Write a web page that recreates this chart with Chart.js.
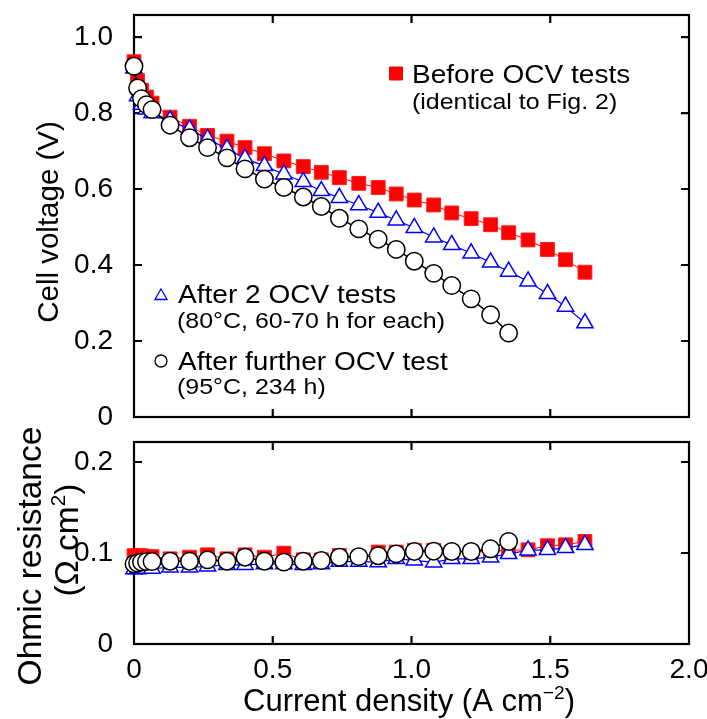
<!DOCTYPE html>
<html><head><meta charset="utf-8">
<script src="https://cdn.jsdelivr.net/npm/chart.js@4.4.1/dist/chart.umd.min.js"></script>
<style>
html,body{margin:0;padding:0;background:#fff;}
#wrap{position:relative;width:707px;height:719px;background:#fff;}
#c1{position:absolute;left:0;top:0;}
#c2{position:absolute;left:0;top:400px;}
</style></head><body>
<div id="wrap">
<canvas id="c1" width="707" height="432"></canvas>
<canvas id="c2" width="707" height="319"></canvas>
</div>
<script>
// ---------- data ----------
const currentDensity = [0, 0.013, 0.027, 0.045, 0.065, 0.13, 0.2, 0.265, 0.335, 0.40, 0.47, 0.54, 0.61, 0.675, 0.74, 0.81, 0.88, 0.945, 1.01, 1.08, 1.145, 1.215, 1.285, 1.35, 1.42, 1.49, 1.555, 1.625];

const voltageBefore = [0.935, 0.885, 0.86, 0.842, 0.826, 0.789, 0.765, 0.741, 0.726, 0.709, 0.693, 0.674, 0.659, 0.644, 0.630, 0.615, 0.604, 0.587, 0.571, 0.558, 0.537, 0.522, 0.506, 0.485, 0.466, 0.441, 0.414, 0.381];
const voltageAfter2 = [0.918, 0.845, 0.822, 0.81, 0.80, 0.781, 0.757, 0.732, 0.706, 0.680, 0.661, 0.639, 0.619, 0.595, 0.577, 0.558, 0.538, 0.518, 0.498, 0.473, 0.453, 0.431, 0.407, 0.383, 0.357, 0.324, 0.291, 0.247];
const voltageFurther = [0.923, 0.866, 0.838, 0.822, 0.809, 0.768, 0.735, 0.709, 0.682, 0.653, 0.626, 0.604, 0.579, 0.554, 0.523, 0.495, 0.468, 0.441, 0.410, 0.378, 0.346, 0.311, 0.269, 0.221];

const ohmicBefore = [0.097, 0.097, 0.097, 0.096, 0.096, 0.0936, 0.0954, 0.098, 0.0936, 0.098, 0.0954, 0.0998, 0.0925, 0.0925, 0.0973, 0.0954, 0.101, 0.101, 0.103, 0.103, 0.101, 0.101, 0.102, 0.103, 0.1035, 0.108, 0.109, 0.1127];
const ohmicAfter2 = [0.0825, 0.0825, 0.083, 0.083, 0.083, 0.0843, 0.0843, 0.0854, 0.087, 0.087, 0.088, 0.088, 0.087, 0.088, 0.0906, 0.0906, 0.090, 0.0936, 0.092, 0.0898, 0.0936, 0.0936, 0.0954, 0.099, 0.103, 0.1035, 0.1057, 0.109];
const ohmicFurther = [0.088, 0.089, 0.090, 0.0905, 0.0906, 0.091, 0.091, 0.0925, 0.091, 0.0954, 0.091, 0.090, 0.091, 0.0917, 0.0954, 0.096, 0.097, 0.099, 0.1017, 0.102, 0.1017, 0.1017, 0.1046, 0.1127];

const xTickValues = [0, 0.5, 1.0, 1.5, 2.0];
const xTickLabels = ['0', '0.5', '1.0', '1.5', '2.0'];
const vTickValues = [0, 0.2, 0.4, 0.6, 0.8, 1.0];
const vTickLabels = ['0', '0.2', '0.4', '0.6', '0.8', '1.0'];
const rTickValues = [0, 0.1, 0.2];
const rTickLabels = ['0', '0.1', '0.2'];

const legendLabels = [
  ['Before OCV tests', '(identical to Fig. 2)'],
  ['After 2 OCV tests', '(80°C, 60-70 h for each)'],
  ['After further OCV test', '(95°C, 234 h)']
];

// ---------- helpers ----------
const FONT = "'Liberation Sans', Arial, Helvetica, sans-serif";
const TL = 8;

function toPts(vals) { return vals.map((v, i) => ({ x: currentDensity[i], y: v })); }

function drawRich(ctx, parts, x, y, size, align) {
  let total = 0;
  const widths = parts.map(p => {
    ctx.font = (p.sup ? size * 0.62 : size) + 'px ' + FONT;
    const w = ctx.measureText(p.t).width; total += w; return w;
  });
  let cx = align === 'center' ? x - total / 2 : x;
  parts.forEach((p, i) => {
    ctx.font = (p.sup ? size * 0.62 : size) + 'px ' + FONT;
    ctx.fillText(p.t, cx, p.sup ? y - size * 0.4 : y);
    cx += widths[i];
  });
}

function framePlugin(yTicks) {
  return {
    id: 'frame',
    beforeDatasetsDraw(chart) {
      const { ctx, chartArea: { left, right, top, bottom }, scales: { x, y } } = chart;
      ctx.save();
      ctx.strokeStyle = '#000';
      ctx.lineWidth = 2.2;
      ctx.strokeRect(left, top, right - left, bottom - top);
      ctx.beginPath();
      xTickValues.slice(1, -1).forEach(v => {
        const px = x.getPixelForValue(v);
        ctx.moveTo(px, bottom); ctx.lineTo(px, bottom - TL);
        ctx.moveTo(px, top); ctx.lineTo(px, top + TL);
      });
      yTicks.slice(1).forEach(v => {
        const py = y.getPixelForValue(v);
        ctx.moveTo(left, py); ctx.lineTo(left + TL, py);
        ctx.moveTo(right, py); ctx.lineTo(right - TL, py);
      });
      ctx.stroke();
      ctx.restore();
    }
  };
}

function ds(label, data, style) {
  const base = { label, data, clip: false, tension: 0, fill: false };
  if (style === 'red') return Object.assign(base, {
    borderColor: '#ff0000', borderWidth: 1, pointStyle: 'rect', pointRadius: 9.8,
    pointBackgroundColor: '#ff0000', pointBorderColor: '#ff2020', pointBorderWidth: 1
  });
  if (style === 'blue') return Object.assign(base, {
    borderColor: '#0000ff', borderWidth: 1.2, pointStyle: 'triangle', pointRadius: 9.4,
    pointBackgroundColor: '#ffffff', pointBorderColor: '#0000ff', pointBorderWidth: 1.5
  });
  return Object.assign(base, {
    borderColor: '#000000', borderWidth: 1.5, pointStyle: 'circle', pointRadius: 8.7,
    pointBackgroundColor: '#ffffff', pointBorderColor: '#000000', pointBorderWidth: 1.5
  });
}

const tickFont = { family: FONT, size: 28 };

// ---------- top chart ----------
const topTitles = {
  id: 'topTitles',
  afterDraw(chart) {
    const ctx = chart.ctx;
    ctx.save();
    ctx.fillStyle = '#000';
    ctx.textBaseline = 'alphabetic';
    // y title
    ctx.save();
    ctx.translate(47, 222);
    ctx.rotate(-Math.PI / 2);
    drawRich(ctx, [{ t: 'Cell voltage (V)' }], 0, 29.5 * 0.36, 29.5, 'center');
    ctx.restore();
    // legend
    const H = 1.1;
    function txt(t, x, y, size) {
      ctx.save(); ctx.translate(x, y); ctx.scale(H, 1);
      ctx.font = size + 'px ' + FONT; ctx.fillText(t, 0, 0); ctx.restore();
    }
    // red square
    ctx.fillStyle = '#ff0000'; ctx.strokeStyle = '#ff0000'; ctx.lineWidth = 1;
    Chart.helpers.drawPoint(ctx, { pointStyle: 'rect', radius: 9.2, rotation: 0, borderWidth: 1 }, 396, 73.5);
    ctx.fillStyle = '#000';
    txt(legendLabels[0][0], 412, 83, 25.5);
    txt(legendLabels[0][1], 412, 109, 22.7);
    // blue triangle
    ctx.fillStyle = '#fff'; ctx.strokeStyle = '#0000ff'; ctx.lineWidth = 1.3;
    Chart.helpers.drawPoint(ctx, { pointStyle: 'triangle', radius: 7, rotation: 0, borderWidth: 1.3 }, 161, 296);
    ctx.fillStyle = '#000';
    txt(legendLabels[1][0], 178, 303, 25.5);
    txt(legendLabels[1][1], 177, 328, 22.7);
    // circle
    ctx.fillStyle = '#fff'; ctx.strokeStyle = '#000'; ctx.lineWidth = 1.3;
    Chart.helpers.drawPoint(ctx, { pointStyle: 'circle', radius: 6, rotation: 0, borderWidth: 1.3 }, 161, 361);
    ctx.fillStyle = '#000';
    txt(legendLabels[2][0], 178, 370, 25.5);
    txt(legendLabels[2][1], 177, 394, 22.7);
    ctx.restore();
  }
};

new Chart(document.getElementById('c1'), {
  type: 'line',
  data: {
    datasets: [
      ds(legendLabels[2][0], toPts(voltageFurther), 'black'),
      ds(legendLabels[1][0], toPts(voltageAfter2), 'blue'),
      ds(legendLabels[0][0], toPts(voltageBefore), 'red')
    ]
  },
  options: {
    responsive: false, animation: false, devicePixelRatio: 1,
    layout: { padding: { top: 15, bottom: 15, left: 0, right: 18 } },
    plugins: { legend: { display: false }, tooltip: { enabled: false } },
    scales: {
      x: {
        type: 'linear', min: 0, max: 2,
        grid: { display: false }, border: { display: false },
        ticks: { display: false },
        afterFit: s => { s.height = 0; s.paddingLeft = 0; s.paddingRight = 0; }
      },
      y: {
        type: 'linear', min: 0, max: 1.058,
        grid: { display: false }, border: { display: false },
        afterBuildTicks: s => { s.ticks = vTickValues.map(v => ({ value: v })); },
        ticks: { font: tickFont, color: '#000', padding: 13,
          callback: (v) => vTickLabels[vTickValues.findIndex(t => Math.abs(t - v) < 1e-9)] },
        afterFit: s => { s.width = 134; s.paddingTop = 0; s.paddingBottom = 0; }
      }
    }
  },
  plugins: [framePlugin(vTickValues), topTitles]
});

// ---------- bottom chart ----------
const bottomTitles = {
  id: 'bottomTitles',
  afterDraw(chart) {
    const ctx = chart.ctx;
    ctx.save();
    ctx.fillStyle = '#000';
    ctx.textBaseline = 'alphabetic';
    const S = 33.5;
    ctx.save();
    ctx.translate(29, 156);
    ctx.rotate(-Math.PI / 2);
    drawRich(ctx, [{ t: 'Ohmic resistance' }], 0, S * 0.36, S, 'center');
    ctx.restore();
    ctx.save();
    ctx.translate(66, 140);
    ctx.rotate(-Math.PI / 2);
    drawRich(ctx, [{ t: '(Ω cm' }, { t: '2', sup: true }, { t: ')' }], 0, S * 0.36, S, 'center');
    ctx.restore();
    drawRich(ctx, [{ t: 'Current density (A cm' }, { t: '−2', sup: true }, { t: ')' }], 409, 311, 31, 'center');
    ctx.restore();
  }
};

new Chart(document.getElementById('c2'), {
  type: 'line',
  data: {
    datasets: [
      ds(legendLabels[2][0], toPts(ohmicFurther), 'black'),
      ds(legendLabels[1][0], toPts(ohmicAfter2), 'blue'),
      ds(legendLabels[0][0], toPts(ohmicBefore), 'red')
    ]
  },
  options: {
    responsive: false, animation: false, devicePixelRatio: 1,
    layout: { padding: { top: 42, bottom: 0, left: 0, right: 18 } },
    plugins: { legend: { display: false }, tooltip: { enabled: false } },
    scales: {
      x: {
        type: 'linear', min: 0, max: 2,
        grid: { display: false }, border: { display: false },
        afterBuildTicks: s => { s.ticks = xTickValues.map(v => ({ value: v })); },
        ticks: { font: tickFont, color: '#000', padding: 1, maxRotation: 0,
          callback: (v) => xTickLabels[xTickValues.findIndex(t => Math.abs(t - v) < 1e-9)] },
        afterFit: s => { s.height = 75; s.paddingLeft = 0; s.paddingRight = 0; }
      },
      y: {
        type: 'linear', min: 0, max: 0.222,
        grid: { display: false }, border: { display: false },
        afterBuildTicks: s => { s.ticks = rTickValues.map(v => ({ value: v })); },
        ticks: { font: tickFont, color: '#000', padding: 13,
          callback: (v) => rTickLabels[rTickValues.findIndex(t => Math.abs(t - v) < 1e-9)] },
        afterFit: s => { s.width = 134; s.paddingTop = 0; s.paddingBottom = 0; }
      }
    }
  },
  plugins: [framePlugin(rTickValues), bottomTitles]
});
</script>
</body></html>
